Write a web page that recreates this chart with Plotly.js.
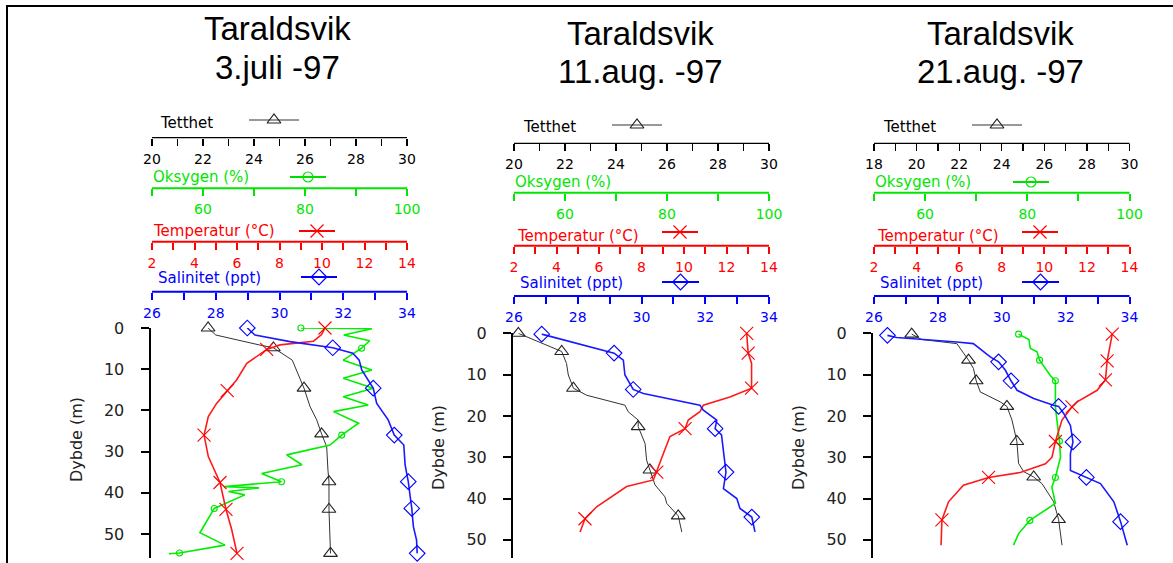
<!DOCTYPE html>
<html><head><meta charset="utf-8">
<script src="https://cdn.plot.ly/plotly-3.0.1.min.js"></script>
<style>html,body{margin:0;padding:0;background:#fff}#chart{width:1173px;height:563px}</style>
</head><body><div id="chart"></div>
<script>
// ---------------- DATA ----------------
const titles = [['Taraldsvik','3.juli -97'],['Taraldsvik','11.aug. -97'],['Taraldsvik','21.aug. -97']];
const axisTitles = {tet:'Tetthet', oks:'Oksygen (%)', tmp:'Temperatur (°C)', sal:'Salinitet (ppt)'};
const yTitle = 'Dybde (m)';
const depthTicks = [0,10,20,30,40,50];
const tetTicks1 = [20,21,22,23,24,25,26,27,28,29,30];
const tetTicks3 = [18,19,20,21,22,23,24,25,26,27,28,29,30];
const oksTicks = [50,60,70,80,90,100];
const oksLabels = ['','60','','80','','100'];
const tmpTicks = [2,3,4,5,6,7,8,9,10,11,12,13,14];
const salTicks = [26,27,28,29,30,31,32,33,34];

// 3.juli -97
const jul_tet_d = [0,1.7,4.1,4.8,7.8,14.6,19.1,22.3,25.7,28.8,34.5,37.3,44,54.7];
const jul_tet_v = [22.2,22.5,24.2,24.76,25.5,25.96,26.2,26.46,26.65,26.85,26.9,26.94,26.94,27.0];
const jul_tet_m = [0,4.8,14.6,25.7,37.3,44,54.7];
const jul_sal_d = [0,1.7,3.3,4.8,6.1,7.8,10.2,14.6,18.3,22.3,26,28.4,33.2,37.3,40.9,43.8,48.2,51.5,54.7];
const jul_sal_v = [28.99,29.23,30.33,31.67,32.3,32.5,32.58,32.94,33.05,33.41,33.6,33.9,33.94,34.04,34.1,34.15,34.2,34.3,34.32];
const jul_sal_m = [0,4.8,14.6,26,37.3,43.8,54.7];
const jul_tmp_d = [0,1.6,3.2,4.1,5.2,7.4,8.6,12.6,15.2,18.3,21.5,26,31.2,37.5,44,48.9,54.7];
const jul_tmp_v = [10.14,9.98,9.6,8.02,7.4,6.77,6.46,5.98,5.54,5.04,4.65,4.45,4.65,5.2,5.48,5.75,6.0];
const jul_tmp_m = [0,5.2,15.2,26,37.5,44,54.7];
const jul_oks_d = [0,0.2,1.7,3.1,4.9,7.8,10.2,12.2,14.6,16.7,18.7,20.3,23.1,26,28.4,30.8,33.2,35.3,37.3,38.5,38.8,39.7,40.5,43.8,49.7,52.7,54.6,54.8];
const jul_oks_v = [79.2,93.1,87.6,92.7,91.1,87.5,93.1,87.5,93.4,87.5,92.4,85.6,90.5,87.2,84.9,76.4,79.4,71.5,75.4,64.2,71.0,65,68.2,62.2,59.4,64.3,55.4,53.3];
const jul_oks_m = [0,4.9,26,37.3,43.8,54.6];

// 11.aug. -97
const a11_tet_d = [0,4.4,7.3,10.1,13.3,15.0,17.4,19.0,21.0,22.6,26.7,30.7,33.1,35.5,36.7,39.6,41.2,44.2,48.1];
const a11_tet_v = [20.17,21.87,22.06,22.13,22.33,22.85,24.35,24.48,24.87,24.87,25.14,25.2,25.33,25.46,25.53,25.92,25.99,26.44,26.58];
const a11_tet_m = [0,4.4,13.3,22.6,33.1,44.2];
const a11_sal_d = [0.2,4.8,6.5,10.1,13.6,14.6,17.4,18.6,21.0,23.1,24.6,33.6,37.6,40.0,42.4,44.5,48.1];
const a11_sal_v = [26.87,29.14,29.43,29.48,29.74,30.06,31.83,31.94,32.36,32.31,32.51,32.65,32.57,32.99,33.09,33.46,33.56];
const a11_sal_m = [0.2,4.8,13.6,23.1,33.6,44.5];
const a11_tmp_d = [0,4.8,7.3,13.3,15.4,17.4,19.0,21.0,23.1,25.0,29.1,33.6,35.5,37.1,42.0,44.9,48.1];
const a11_tmp_v = [12.95,13.02,13.18,13.18,12.16,10.91,10.75,10.2,10.05,9.34,9.03,8.72,8.56,7.3,5.89,5.34,5.11];
const a11_tmp_m = [0,4.8,13.3,23.1,33.6,44.9];

// 21.aug. -97
const a21_tet_d = [0.2,1.5,2.5,6.5,8.5,11.5,14.2,16.6,17.7,21.0,26.2,31.5,33.5,34.8,36.4,40.8,45.1,51.3];
const a21_tet_v = [19.77,20.24,21.89,22.44,22.67,22.8,22.99,23.93,24.24,24.48,24.71,24.79,25.03,25.5,25.89,26.44,26.67,26.83];
const a21_tet_m = [0.2,6.5,11.5,17.7,26.2,34.8,45.1];
const a21_sal_d = [0.5,1.0,2.1,2.5,5.7,6.9,8.9,11.5,13.8,15.8,17.4,17.7,19.4,22.3,26.3,29.1,33.2,34.9,36.4,40.8,45.6,51.3];
const a21_sal_v = [26.42,26.71,28.59,29.11,29.64,29.9,30.11,30.29,30.48,31.0,31.62,31.78,31.94,32.15,32.23,32.15,32.15,32.65,33.09,33.51,33.72,33.93];
const a21_sal_m = [0.5,6.9,11.5,17.7,26.3,34.9,45.6];
const a21_tmp_d = [0.2,6.7,11.3,13.8,16.6,17.8,21.0,25.1,26.2,30.0,31.6,33.7,34.9,36.8,40.8,45.2,51.3];
const a21_tmp_v = [13.19,12.95,12.87,12.48,11.54,11.3,10.83,10.6,10.52,10.36,10.05,8.87,7.38,6.2,5.5,5.19,5.15];
const a21_tmp_m = [0.2,6.7,11.3,17.8,26.2,34.9,45.2];
const a21_oks_d = [0.2,1.5,3.7,4.5,6.5,8.5,10.2,11.5,17.8,21.1,26.1,30.0,34.9,37.2,41.2,45.3,48.5,51.3];
const a21_oks_v = [78.3,80.3,80.6,81.9,82.4,83.5,84.5,85.5,85.5,85.8,86.3,86.5,85.5,84.8,85.5,80.5,78.3,77.3];
const a21_oks_m = [0.2,6.5,11.5,26.1,34.9,45.3];

// ---------------- LAYOUT / STYLE ----------------
const W=1173, H=563;
const px=v=>v/W, py=v=>1-v/H;
const FONT='DejaVu Sans';
const COL={tet:'#000000', oks:'#00e600', tmp:'#ff0000', sal:'#0000ff'};
const LW={tet:1.3, oks:2, tmp:2, sal:2};
const SYM={tet:'triangle-up-open', oks:'circle-open', tmp:'x-thin-open', sal:'diamond-open'};
const MSZ={tet:12, oks:6, tmp:13, sal:12};
const LINECOL={tet:'#333333', oks:'#00ee00', tmp:'#ff1a1a', sal:'#1a1aff'};
const KEYLINE={tet:'#777777', oks:'#00dd00', tmp:'#ff0000', sal:'#0000ff'};
const EXT=22; // extra plotting room (px) right of the axis ends so profiles are not clipped

const panels=[
 {left:152,right:407,top:328,bottom:558,ppm:4.12,yline:149.5,tcx:277,ty:[29,67.5],dyb:[76,440],
  tetTicks:tetTicks1,
  axY:{tet:137.7,oks:188.3,tmp:241.7,sal:291.7},
  lab:{tet:[158,123],oks:[151,177],tmp:[151,231],sal:[156,278]},
  key:{tet:[249,299,120],oks:[290,326,177],tmp:[299,335,231],sal:[301,337,277]},
  ser:{tet:[jul_tet_d,jul_tet_v,jul_tet_m],oks:[jul_oks_d,jul_oks_v,jul_oks_m],tmp:[jul_tmp_d,jul_tmp_v,jul_tmp_m],sal:[jul_sal_d,jul_sal_v,jul_sal_m]}},
 {left:514,right:769,top:333.3,bottom:558,ppm:4.13,yline:512,tcx:640,ty:[33,71.5],dyb:[438,448],
  tetTicks:tetTicks1,
  axY:{tet:143.3,oks:192.7,tmp:245.7,sal:296},
  lab:{tet:[521,127],oks:[513,182],tmp:[515,236],sal:[518,283]},
  key:{tet:[612,662,125],tmp:[662,698,232],sal:[662,699,282]},
  ser:{tet:[a11_tet_d,a11_tet_v,a11_tet_m],tmp:[a11_tmp_d,a11_tmp_v,a11_tmp_m],sal:[a11_sal_d,a11_sal_v,a11_sal_m]}},
 {left:874,right:1129.5,top:333.3,bottom:558,ppm:4.13,yline:872,tcx:1000,ty:[33,71.5],dyb:[798,448],
  tetTicks:tetTicks3,
  axY:{tet:143.3,oks:192.7,tmp:245.7,sal:296},
  lab:{tet:[881,127],oks:[873,182],tmp:[875,236],sal:[878,283]},
  key:{tet:[972,1022,125],oks:[1013,1049,182],tmp:[1022,1058,232],sal:[1022,1059,282]},
  ser:{tet:[a21_tet_d,a21_tet_v,a21_tet_m],oks:[a21_oks_d,a21_oks_v,a21_oks_m],tmp:[a21_tmp_d,a21_tmp_v,a21_tmp_m],sal:[a21_sal_d,a21_sal_v,a21_sal_m]}}
];

const order=['tet','oks','tmp','sal'];
const layout={width:W,height:H,margin:{l:0,r:0,t:0,b:0},paper_bgcolor:'#fff',plot_bgcolor:'rgba(0,0,0,0)',
  showlegend:false,font:{family:FONT},annotations:[],shapes:[]};
const traces=[];

panels.forEach((p,i)=>{
  const base=i*4+1;
  const yid=i+1;
  const yName='yaxis'+(yid===1?'':yid);
  const wpx=p.right-p.left;
  layout[yName]={domain:[py(p.bottom),py(p.top)],range:[(p.bottom-p.top)/p.ppm,0],anchor:'free',position:px(p.yline),
    tickvals:depthTicks,ticks:'outside',ticklen:8,tickwidth:2,tickcolor:'#000',showline:true,linewidth:2,linecolor:'#000',
    showgrid:false,zeroline:false,tickfont:{family:FONT,size:16,color:'#222'},ticklabelstandoff:13,fixedrange:true};
  order.forEach((k,j)=>{
    const n=base+j;
    const xName='xaxis'+(n===1?'':n);
    let tv,tt;
    if(k==='tet'){tv=p.tetTicks;tt=tv.map(v=>v%2===0?String(v):'');}
    else if(k==='oks'){tv=oksTicks;tt=oksLabels;}
    else if(k==='tmp'){tv=tmpTicks;tt=tv.map(v=>v%2===0?String(v):'');}
    else {tv=salTicks;tt=tv.map(v=>v%2===0?String(v):'');}
    const r0=tv[0], r1=tv[tv.length-1];
    const ax={domain:[px(p.left),px(p.right+EXT)],range:[r0, r1+(r1-r0)*EXT/wpx],anchor:'free',position:py(p.axY[k]),side:'bottom',
      tickmode:'array',tickvals:tv,ticktext:tt,ticks:'outside',ticklen:7,tickwidth:LW[k],tickcolor:COL[k],
      showline:false,showgrid:false,zeroline:false,
      tickfont:{family:FONT,size:14,color:COL[k]},ticklabelstandoff:1,fixedrange:true};
    if(j>0) ax.overlaying='x'+(base===1?'':base);
    layout[xName]=ax;
    // axis line (only from first to last tick)
    layout.shapes.push({type:'line',xref:'paper',yref:'paper',x0:px(p.left),x1:px(p.right),y0:py(p.axY[k]),y1:py(p.axY[k]),
      line:{color:COL[k],width:LW[k]}});
    // axis title
    layout.annotations.push({text:axisTitles[k],xref:'paper',yref:'paper',x:px(p.lab[k][0]),y:py(p.lab[k][1]),
      xanchor:'left',yanchor:'middle',showarrow:false,font:{family:FONT,size:15,color:COL[k]}});
    const xr='x'+(n===1?'':n), yr='y'+(yid===1?'':yid);
    const s=p.ser[k];
    if(!s){ // no data for this variable: empty trace so the axis is still drawn
      traces.push({type:'scatter',mode:'lines',x:[null],y:[null],xaxis:xr,yaxis:yr,hoverinfo:'skip'});
      return;
    }
    traces.push({type:'scatter',mode:'lines',x:s[1],y:s[0],xaxis:xr,yaxis:yr,cliponaxis:false,
      line:{color:LINECOL[k],width:k==='tet'?1:1.6},hoverinfo:'skip'});
    const mx=[],my=[];
    s[0].forEach((d,q)=>{if(s[2].includes(d)){mx.push(s[1][q]);my.push(d);}});
    traces.push({type:'scatter',mode:'markers',x:mx,y:my,xaxis:xr,yaxis:yr,cliponaxis:false,
      marker:{symbol:SYM[k],size:MSZ[k],color:k==='tet'?'#222':COL[k],line:{width:1.1,color:k==='tet'?'#222':COL[k]}},hoverinfo:'skip'});
    // key
    const kk=p.key[k];
    if(kk){
      traces.push({type:'scatter',mode:'lines',x:[kk[0],kk[1]],y:[kk[2],kk[2]],xaxis:'x13',yaxis:'y4',
        line:{color:KEYLINE[k],width:k==='tet'?1.3:2},hoverinfo:'skip'});
      traces.push({type:'scatter',mode:'markers',x:[(kk[0]+kk[1])/2],y:[kk[2]],xaxis:'x13',yaxis:'y4',
        marker:{symbol:SYM[k],size:k==='oks'?10:MSZ[k],color:k==='tet'?'#222':COL[k],line:{width:1.2,color:k==='tet'?'#222':COL[k]}},hoverinfo:'skip'});
    }
  });
  // titles
  p.ty.forEach((yy,li)=>layout.annotations.push({text:titles[i][li],xref:'paper',yref:'paper',x:px(p.tcx),y:py(yy),
    xanchor:'center',yanchor:'middle',showarrow:false,font:{family:'Liberation Sans',size:33,color:'#000'}}));
  layout.annotations.push({text:yTitle,xref:'paper',yref:'paper',x:px(p.dyb[0]),y:py(p.dyb[1]),textangle:-90,
    xanchor:'center',yanchor:'middle',showarrow:false,font:{family:FONT,size:16,color:'#222'}});
});
layout.xaxis13={domain:[0,1],range:[0,W],visible:false,anchor:'y4',fixedrange:true};
layout.yaxis4={domain:[0,1],range:[H,0],visible:false,anchor:'x13',fixedrange:true};
layout.shapes.push({type:'rect',xref:'paper',yref:'paper',x0:px(7),y0:py(6),x1:1.1,y1:-0.1,line:{color:'#000',width:2},fillcolor:'rgba(0,0,0,0)'});

Plotly.newPlot('chart',traces,layout,{staticPlot:true,displayModeBar:false});
</script></body></html>
